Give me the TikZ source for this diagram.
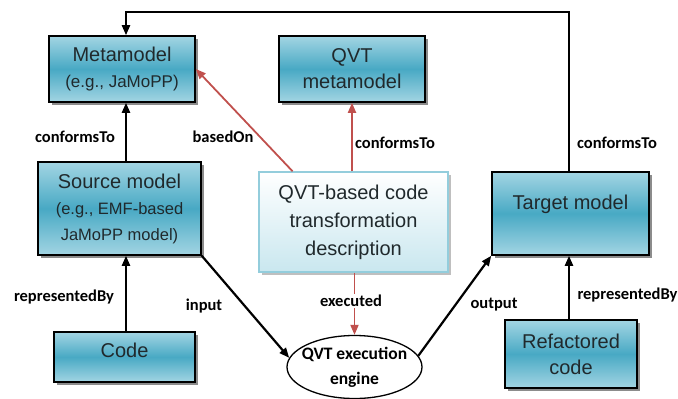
\documentclass[tikz,border=0pt]{standalone}
\usepackage{fontspec}
\setmainfont{Liberation Sans}
\newfontfamily\lblfont{Carlito}
\usetikzlibrary{arrows.meta,shadows,calc,shapes.geometric}

\definecolor{boxlt}{HTML}{A3D5E3}
\definecolor{boxdk}{HTML}{48A9C4}
\definecolor{boxtxt}{HTML}{20292C}
\definecolor{desclt}{HTML}{C9E7EF}
\definecolor{descedge}{HTML}{93CDDC}
\definecolor{redc}{HTML}{C0504D}

\tikzset{
  box/.style={draw=black, line width=1.6pt, top color=boxlt, bottom color=boxlt,
    middle color=boxdk, text=boxtxt, align=center, inner sep=0pt,
    font=\fontsize{20}{26}\selectfont,
    drop shadow={shadow xshift=3pt, shadow yshift=-3pt, fill=black, opacity=0.45}},
  descbox/.style={draw=descedge, line width=1.4pt, top color=white, bottom color=desclt,
    text=boxtxt, align=center, inner sep=0pt,
    font=\fontsize{20}{28}\selectfont,
    drop shadow={shadow xshift=3pt, shadow yshift=-3pt, fill=black, opacity=0.25}},
  enginenode/.style={ellipse, draw=black, line width=1.3pt, fill=white, align=center,
    inner xsep=-5pt, inner ysep=0pt, font={\lblfont\bfseries\fontsize{17.5}{25}\selectfont}},
  lbl/.style={font={\lblfont\bfseries\fontsize{16.5}{18}\selectfont}, text=black, inner sep=1pt},
  arr/.style={line width=2.2pt, -{Triangle[length=10pt,width=8pt]}},
  rarr/.style={draw=redc, line width=1.8pt, -{Triangle[length=10pt,width=8pt]}},
}

\begin{document}
\begin{tikzpicture}[x=1pt, y=-1pt]
  \useasboundingbox (0,0) rectangle (678,399);

  % model boxes
  \node[box, minimum width=146pt, minimum height=66pt] (meta) at (122,69)
    {Metamodel\\{\fontsize{17}{26}\selectfont (e.g., JaMoPP)}};
  \node[box, minimum width=146pt, minimum height=66pt] (qvt) at (352,69)
    {QVT\\metamodel};
  \node[box, minimum width=163pt, minimum height=93pt] (src) at (119.5,208.5)
    {Source model\\{\fontsize{16.5}{25.5}\selectfont (e.g., EMF-based}\\{\fontsize{16.5}{25.5}\selectfont JaMoPP model)}};
  \node[box, minimum width=141pt, minimum height=50pt, text depth=13pt] (code) at (124.5,357) {Code};
  \node[box, minimum width=157pt, minimum height=83pt, text depth=22pt] (tgt) at (570.5,213.5) {Target model};
  \node[box, minimum width=132pt, minimum height=68pt] (ref) at (571,354)
    {Refactored\\code};

  % transformation description and engine
  \node[descbox, minimum width=189pt, minimum height=100pt] (desc) at (353.5,222)
    {QVT-based code\\transformation\\description};
  \node[enginenode, minimum width=135pt, minimum height=63pt] (eng) at (354.5,367)
    {QVT execution\\engine};

  % vertical axes of the two columns
  \coordinate (axisL) at (126,0);
  \coordinate (axisR) at (569,0);
  \coordinate (topR) at (569,12);
  \coordinate (topL) at (126,12);

  % black connectors
  \draw[arr] (src.north -| axisL) -- (meta.south -| axisL);
  \draw[arr] (code.north -| axisL) -- (src.south -| axisL);
  \draw[arr] (ref.north -| axisR) -- (tgt.south -| axisR);
  \draw[arr] (tgt.north -| axisR) -- (topR) -- (topL) -- (meta.north -| axisL);
  \draw[arr] (src.south east) -- (eng.172);
  \draw[arr] (eng.10) -- (tgt.south west);

  % red connectors
  \draw[rarr] ($(desc.north west)!0.18!(desc.north east)$) -- (meta.east);
  \draw[rarr] (desc.north -| qvt.south) -- (qvt.south);
  \draw[rarr] (desc.south -| eng.north) -- (eng.north);

  % labels
  \node[lbl] (l1) at (75,137) {conformsTo};
  \node[lbl] (l2) at (223,137) {basedOn};
  \node[lbl] (l3) at (395,143) {conformsTo};
  \node[lbl] (l4) at (617,143) {conformsTo};
  \node[lbl] (l5) at (64,297) {representedBy};
  \node[lbl] (l6) at (204,306) {input};
  \node[lbl, fill=white] (l7) at (351,301) {executed};
  \node[lbl] (l8) at (494,305) {output};
  \node[lbl] (l9) at (627.5,295) {representedBy};
\end{tikzpicture}
\end{document}
